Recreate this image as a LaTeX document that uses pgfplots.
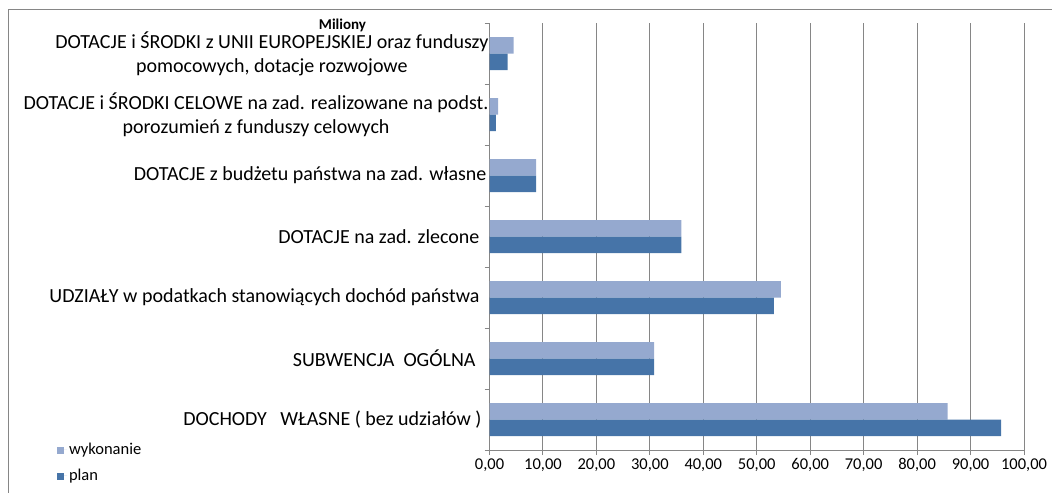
\documentclass[border=0pt]{standalone}
\usepackage{fontspec}
\setmainfont{Carlito}
\usepackage{pgfplots}
\pgfplotsset{compat=1.18}
\definecolor{wyk}{RGB}{149,169,207}
\definecolor{plan}{RGB}{70,116,168}
\definecolor{gridc}{RGB}{134,134,134}
\begin{document}
\begin{tikzpicture}
\path[use as bounding box] (0bp,0bp) rectangle (1052bp,493bp);
\draw[gridc, line width=1bp] (8bp,0bp) -- (8bp,483bp) -- (1052bp,483bp);
\begin{axis}[
  at={(489.5bp,43bp)}, anchor=south west,
  scale only axis, width=534.5bp, height=427bp,
  xbar, bar width=16.5bp,
  xmin=0, xmax=100, ymin=-0.5, ymax=6.5,
  xtick={0,10,...,100},
  ytick={0,...,6},
  minor ytick={-0.5,0.5,...,6.5},
  yticklabels={
    {DOCHODY\ \ \ WŁASNE ( bez udziałów )\hspace*{7bp}},
    {SUBWENCJA\ \ OGÓLNA\hspace*{13bp}},
    {UDZIAŁY w podatkach stanowiących dochód państwa\hspace*{9bp}},
    {DOTACJE na zad. zlecone\hspace*{9bp}},
    {DOTACJE z budżetu państwa na zad. własne\hspace*{2bp}},
    {DOTACJE i ŚRODKI CELOWE na zad. realizowane na podst.\\porozumień z funduszy celowych},
    {DOTACJE i ŚRODKI z UNII EUROPEJSKIEJ oraz funduszy\\pomocowych, dotacje rozwojowe}
  },
  axis x line*=bottom, axis y line*=left,
  axis line style={gridc, line width=1bp},
  xmajorgrids, grid style={gridc, line width=1bp},
  tick align=outside,
  major tick length=5bp,
  minor tick length=5bp,
  xtick style={gridc, line width=1bp},
  major y tick style={draw=none},
  minor y tick style={gridc, line width=1bp},
  xticklabel style={font=\fontsize{16.5bp}{18bp}\selectfont, text=black,
    /pgf/number format/.cd, fixed, fixed zerofill, precision=2, use comma, assume math mode=true},
  yticklabel style={font=\fontsize{20bp}{24bp}\selectfont, align=center, text=black, xshift=7.5bp},
  legend style={at={(axis description cs:-0.815,0.025)}, anchor=north west, draw=none, fill=none,
    font=\fontsize{16.5bp}{18bp}\selectfont, row sep=9bp, legend cell align=left},
  legend image code/.code={\fill[#1] (-3bp,-4bp) rectangle (4bp,3bp); \path (4bp,0bp) -- (7bp,0bp);},
]
\addplot[fill=wyk, draw=none, bar shift=8.25bp] coordinates {
  (85.7,0) (30.8,1) (54.5,2) (35.9,3) (8.7,4) (1.6,5) (4.5,6)};
\addplot[fill=plan, draw=none, bar shift=-8.25bp] coordinates {
  (95.7,0) (30.8,1) (53.2,2) (35.9,3) (8.7,4) (1.2,5) (3.4,6)};
\legend{wykonanie, plan}
\end{axis}
\node[font=\bfseries\fontsize{15bp}{17bp}\selectfont] at (342.5bp,467.5bp) {Miliony};
\end{tikzpicture}
\end{document}
